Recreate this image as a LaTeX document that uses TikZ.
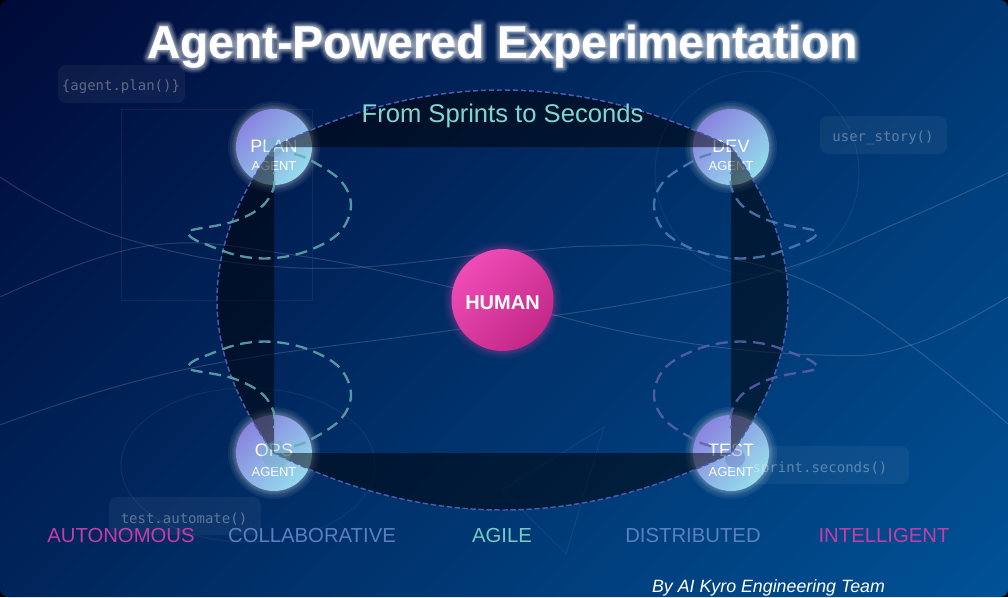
\documentclass[tikz,border=0pt]{standalone}
\usepackage{fontspec}
\setmainfont{Liberation Sans}
\newfontfamily\codefont{DejaVu Sans Mono}
\newfontfamily\glowA{Liberation Sans}[UprightFont=* Bold,FakeBold=4]
\newfontfamily\glowB{Liberation Sans}[UprightFont=* Bold,FakeBold=8]
\newfontfamily\glowC{Liberation Sans}[UprightFont=* Bold,FakeBold=12]
\newfontfamily\glowD{Liberation Sans}[UprightFont=* Bold,FakeBold=16]
\newfontfamily\glowE{Liberation Sans}[UprightFont=* Bold,FakeBold=20]
\newfontfamily\glowF{Liberation Sans}[UprightFont=* Bold,FakeBold=25]
\usetikzlibrary{calc}
\definecolor{bgA}{HTML}{000A38}
\definecolor{bgB}{HTML}{00235A}
\definecolor{bgC}{HTML}{005296}
\definecolor{nodeA}{HTML}{8A84E0}
\definecolor{nodeB}{HTML}{94DCEC}
\definecolor{humA}{HTML}{F04CB8}
\definecolor{humB}{HTML}{C22886}
\definecolor{pinkLab}{HTML}{C83CA8}
\definecolor{blueLab}{HTML}{5A80C0}
\definecolor{tealLab}{HTML}{74CCC4}
\definecolor{subCol}{HTML}{7FD8D0}
\definecolor{loopTeal}{HTML}{62ACB2}
\definecolor{loopBlue}{HTML}{5080B4}
\definecolor{loopPurple}{HTML}{5C62AC}
\definecolor{edgeDash}{HTML}{4A5CAC}
\newcommand{\pxfont}[1]{\fontsize{\fpeval{#1*0.75}}{\fpeval{#1*0.9}}\selectfont}
\tikzset{
  deco/.style={draw=white,draw opacity=0.06,line width=0.75pt},
  thread/.style={draw=white,draw opacity=0.15,line width=0.75pt},
  chip/.style={fill=white,fill opacity=0.05,rounded corners=6},
  code/.style={anchor=base,text=white,text opacity=0.33,font=\codefont\pxfont{14}},
  agent/.style={circle,minimum size=57pt,inner sep=0pt,shading=axis,top color=nodeA,bottom color=nodeB,shading angle=45},
  humanbig/.style={circle,minimum size=76.5pt,inner sep=0pt,shading=axis,top color=humA,bottom color=humB,shading angle=45},
  agentname/.style={anchor=base,text=white,font=\pxfont{18}},
  agentsub/.style={anchor=base,text=white,font=\pxfont{13}},
  band/.style={anchor=base,font=\pxfont{20.3}},
  loopline/.style={line width=1.75pt,dash pattern=on 9pt off 5pt,opacity=0.85},
  lens/.style={fill=black,fill opacity=0.5,even odd rule},
  edgeline/.style={draw=edgeDash,line width=1.1pt,dash pattern=on 4pt off 2pt},
  spot/.style={fill opacity=0.3},
  glowlayer/.style={anchor=base,text=white,opacity=#1},
}
\newcommand{\looppath}[1]{%
  \draw[loopline,draw=#1] plot[smooth,tension=0.6] coordinates {(20,7) (36,13) (66,33) (77,58) (66,85) (36,103) (1,111) (-34,109) (-69,97) (-82,91) (-86,85) (-80,82.5) (-42,75) (-14,61) (-1,43) (0,25)};
}
\newcommand{\halo}[4]{% centre, radius, colour, opacity
  \foreach \d in {1,2,3,4,6,8}{
    \fill[#3,opacity=#4] (#1) circle[radius=#2+\d];
  }
}
\begin{document}
\begin{tikzpicture}[x=0.75pt,y=-0.75pt]
\useasboundingbox (0,0) rectangle (1008,597);
% background
\fill[black] (0,0) rectangle (1008,597);
\begin{scope}
  \clip[rounded corners=6] (0,0) rectangle (1008,597);
  \begin{scope}[transform canvas={rotate around={-45:(504,298.5)}}]
    \shade[left color=bgA,middle color=bgB,right color=bgC] (-63.5,-500) rectangle (1071.5,1100);
  \end{scope}
\end{scope}
% faint decorations
\draw[deco] (121,109) rectangle (312,300);
\draw[deco] (757,173) circle[radius=102];
\draw[deco] (248,465) ellipse[x radius=127,y radius=77];
\draw[deco] (604,427) -- (566,554) -- (502,490) -- cycle;
% threads
\draw[thread] plot[smooth,tension=0.7] coordinates {(0,297) (147,246) (293,255) (450,287) (640,335) (820,355) (914,344) (1008,297)};
\draw[thread] plot[smooth,tension=0.7] coordinates {(0,177) (120,237) (300,268) (500,253) (600,246) (700,252) (844,300) (1008,424)};
\draw[thread] plot[smooth,tension=0.7] coordinates {(0,425) (187,369) (460,329) (651,300) (787,268) (904,220) (1008,173)};
% code chips
\fill[chip] (58,65) rectangle (185,103);
\node[code] (c1) at (121,90) {\{agent.plan()\}};
\fill[chip] (820,116) rectangle (947,154);
\node[code] (c2) at (883,141) {user\_story()};
\fill[chip] (109,497) rectangle (261,535);
\node[code] (c4) at (184,523) {test.automate()};
% title
\coordinate (ttl) at (502.5,58);
\begin{scope}[line join=round]
\node[glowlayer=0.07,font=\glowF\pxfont{46}] (g6) at (ttl) {Agent-Powered Experimentation};
\node[glowlayer=0.08,font=\glowE\pxfont{46}] (g5) at (ttl) {Agent-Powered Experimentation};
\node[glowlayer=0.1,font=\glowD\pxfont{46}] (g4) at (ttl) {Agent-Powered Experimentation};
\node[glowlayer=0.12,font=\glowC\pxfont{46}] (g3) at (ttl) {Agent-Powered Experimentation};
\node[glowlayer=0.15,font=\glowB\pxfont{46}] (g2) at (ttl) {Agent-Powered Experimentation};
\node[glowlayer=0.18,font=\glowA\pxfont{46}] (g1) at (ttl) {Agent-Powered Experimentation};
\end{scope}
\node[anchor=base,text=white,font=\bfseries\pxfont{46}] (title) at (ttl) {Agent-Powered Experimentation};
% agents
\coordinate (pP) at (274,147);
\coordinate (pD) at (731,147);
\coordinate (pO) at (274,453);
\coordinate (pT) at (731,453);
\coordinate (pH) at (502.5,300);
\halo{pP}{38}{white}{0.06}\halo{pD}{38}{white}{0.06}\halo{pO}{38}{white}{0.06}\halo{pT}{38}{white}{0.06}
\halo{pH}{51}{humA}{0.05}
\node[agent] (plan) at (pP) {};
\node[agent] (dev) at (pD) {};
\node[agent] (ops) at (pO) {};
\node[agent] (test) at (pT) {};
\node[humanbig] (human) at (pH) {};
\node[anchor=base,text=white,font=\bfseries\pxfont{20}] (humanlabel) at (502.5,309) {HUMAN};
\node[agentname] (t1) at (274,152) {PLAN};
\node[agentsub] (s1) at (274,170) {AGENT};
\node[agentname] (t2) at (731,152) {DEV};
\node[agentsub] (s2) at (731,170) {AGENT};
\node[agentname] (t3) at (274,456) {OPS};
\node[agentsub] (s3) at (274,476) {AGENT};
\node[agentname] (t4) at (731,456) {TEST};
\node[agentsub] (s4) at (731,476) {AGENT};
% chip lying over the TEST agent
\fill[chip] (749,446) rectangle (909,484);
\node[code] (c3) at (820,472) {sprint.seconds()};
% dark lenses between the curved ring and the square
\coordinate (a1) at (426.3,71); \coordinate (a2) at (578.7,71);
\coordinate (b1) at (807,249); \coordinate (b2) at (807,351);
\coordinate (d1) at (578.7,529); \coordinate (d2) at (426.3,529);
\coordinate (e1) at (198,351); \coordinate (e2) at (198,249);
\fill[lens] (plan.center) .. controls (a1) and (a2) .. (dev.center) .. controls (b1) and (b2) .. (test.center) .. controls (d1) and (d2) .. (ops.center) .. controls (e1) and (e2) .. (plan.center)
  (plan.center) -- (dev.center) -- (test.center) -- (ops.center) -- cycle;
\draw[edgeline] (plan.center) .. controls (a1) and (a2) .. (dev.center) .. controls (b1) and (b2) .. (test.center) .. controls (d1) and (d2) .. (ops.center) .. controls (e1) and (e2) .. (plan.center);
\node[anchor=base,text=subCol,font=\pxfont{25.6}] (subtitle) at (502.5,122) {From Sprints to Seconds};
% small spots
\fill[loopTeal,spot] (274,147) circle[radius=10];
\fill[loopTeal,spot] (276,455) circle[radius=14];
\fill[loopPurple,spot] (735,458) circle[radius=10];
% loops
\begin{scope}[shift={(pP)}]\looppath{loopTeal}\end{scope}
\begin{scope}[shift={(pD)},xscale=-1]\looppath{loopBlue}\end{scope}
\begin{scope}[shift={(pO)},yscale=-1]\looppath{loopTeal}\end{scope}
\begin{scope}[shift={(pT)},xscale=-1,yscale=-1]\looppath{loopPurple}\end{scope}
% bottom band
\node[band,text=pinkLab] (w1) at (121,542) {AUTONOMOUS};
\node[band,text=blueLab] (w2) at (312,542) {COLLABORATIVE};
\node[band,text=tealLab] (w3) at (502,542) {AGILE};
\node[band,text=blueLab] (w4) at (693,542) {DISTRIBUTED};
\node[band,text=pinkLab] (w5) at (884,542) {INTELLIGENT};
\node[anchor=base,text=white,font=\itshape\pxfont{17.8}] (byline) at (768.5,592) {By AI Kyro Engineering Team};
\end{tikzpicture}
\end{document}
